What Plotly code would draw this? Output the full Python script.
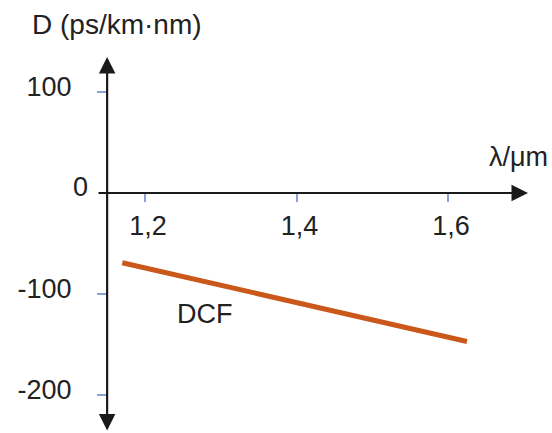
import plotly.graph_objects as go

# ---- data ----
wavelength_um = [1.17, 1.625]
dcf_D = [-69, -147]
x_tick_vals = [1.2, 1.4, 1.6]
x_tick_text = ["1,2", "1,4", "1,6"]
y_tick_vals = [100, -100, -200]
y_tick_text = ["100", "-100", "-200"]
zero_val = 0
zero_text = "0"
series_name = "DCF"
y_title = "D (ps/km·nm)"
x_title = "λ/μm"

# ---- layout geometry ----
W, H = 552, 433
x_range = [1.00858, 1.73729]
y_range = [-237.6, 191.1]
y_axis_x = 1.15          # where the vertical axis crosses
FONT = "Liberation Sans, Arial, Helvetica, sans-serif"
TXT = "#222222"
AX = "#1a1a1a"
TICK = "#86a2d6"
LINE = "#c9581a"
FS = 27

fig = go.Figure()
fig.add_trace(go.Scatter(
    x=wavelength_um, y=dcf_D, mode="lines", name=series_name,
    line=dict(color=LINE, width=5), hoverinfo="skip"))

fig.update_layout(
    width=W, height=H,
    margin=dict(l=0, r=0, t=0, b=0),
    paper_bgcolor="white", plot_bgcolor="white",
    showlegend=False,
    font=dict(family=FONT, size=FS, color=TXT),
    xaxis=dict(range=x_range, anchor="free", position=(H - 193) / H,
               showgrid=False, zeroline=False, showline=False,
               ticks="outside", ticklen=8, tickwidth=1.5, tickcolor=TICK,
               tickvals=x_tick_vals, ticktext=x_tick_text,
               tickfont=dict(size=FS, color=TXT, family=FONT),
               ticklabelstandoff=1, ticklabelshift=3,
               automargin=False, fixedrange=True),
    yaxis=dict(range=y_range, anchor="free", position=107 / W,
               showgrid=False, zeroline=False, showline=False,
               ticks="outside", ticklen=10, tickwidth=1.5, tickcolor=TICK,
               tickvals=y_tick_vals, ticktext=y_tick_text,
               tickfont=dict(size=FS, color=TXT, family=FONT),
               ticklabelstandoff=20, ticklabelshift=-5,
               automargin=False, fixedrange=True),
)

# vertical axis with arrows on both ends
fig.add_annotation(x=y_axis_x, y=134.7, ax=y_axis_x, ay=-236.5,
                   xref="x", yref="y", axref="x", ayref="y",
                   text="", showarrow=True, arrowside="end+start",
                   arrowhead=2, arrowsize=1.5, arrowwidth=2.2, arrowcolor=AX,
                   standoff=0, startstandoff=0)
# horizontal axis with arrow
fig.add_annotation(x=1.7056, y=0, ax=1.1366, ay=0,
                   xref="x", yref="y", axref="x", ayref="y",
                   text="", showarrow=True, arrowside="end",
                   arrowhead=2, arrowsize=1.5, arrowwidth=2.2, arrowcolor=AX,
                   standoff=0)

# zero label
fig.add_annotation(x=90 / W, xref="paper", xanchor="right",
                   y=zero_val, yref="y", yanchor="middle", yshift=6,
                   text=zero_text, showarrow=False,
                   font=dict(size=FS, color=TXT, family=FONT))
# axis titles
fig.add_annotation(x=30 / W, xref="paper", xanchor="left",
                   y=1 - 25 / H, yref="paper", yanchor="middle",
                   text=y_title, showarrow=False,
                   font=dict(size=28, color=TXT, family=FONT))
fig.add_annotation(x=550 / W, xref="paper", xanchor="right",
                   y=1 - 157 / H, yref="paper", yanchor="middle",
                   text=x_title, showarrow=False,
                   font=dict(size=FS, color=TXT, family=FONT))
# series label
fig.add_annotation(x=175 / W, xref="paper", xanchor="left",
                   y=1 - 314 / H, yref="paper", yanchor="middle",
                   text=series_name, showarrow=False,
                   font=dict(size=FS, color=TXT, family=FONT))

fig.write_html("out.html", config={"displayModeBar": False},
               post_script="document.body.style.margin='0';document.body.style.overflow='hidden';")
